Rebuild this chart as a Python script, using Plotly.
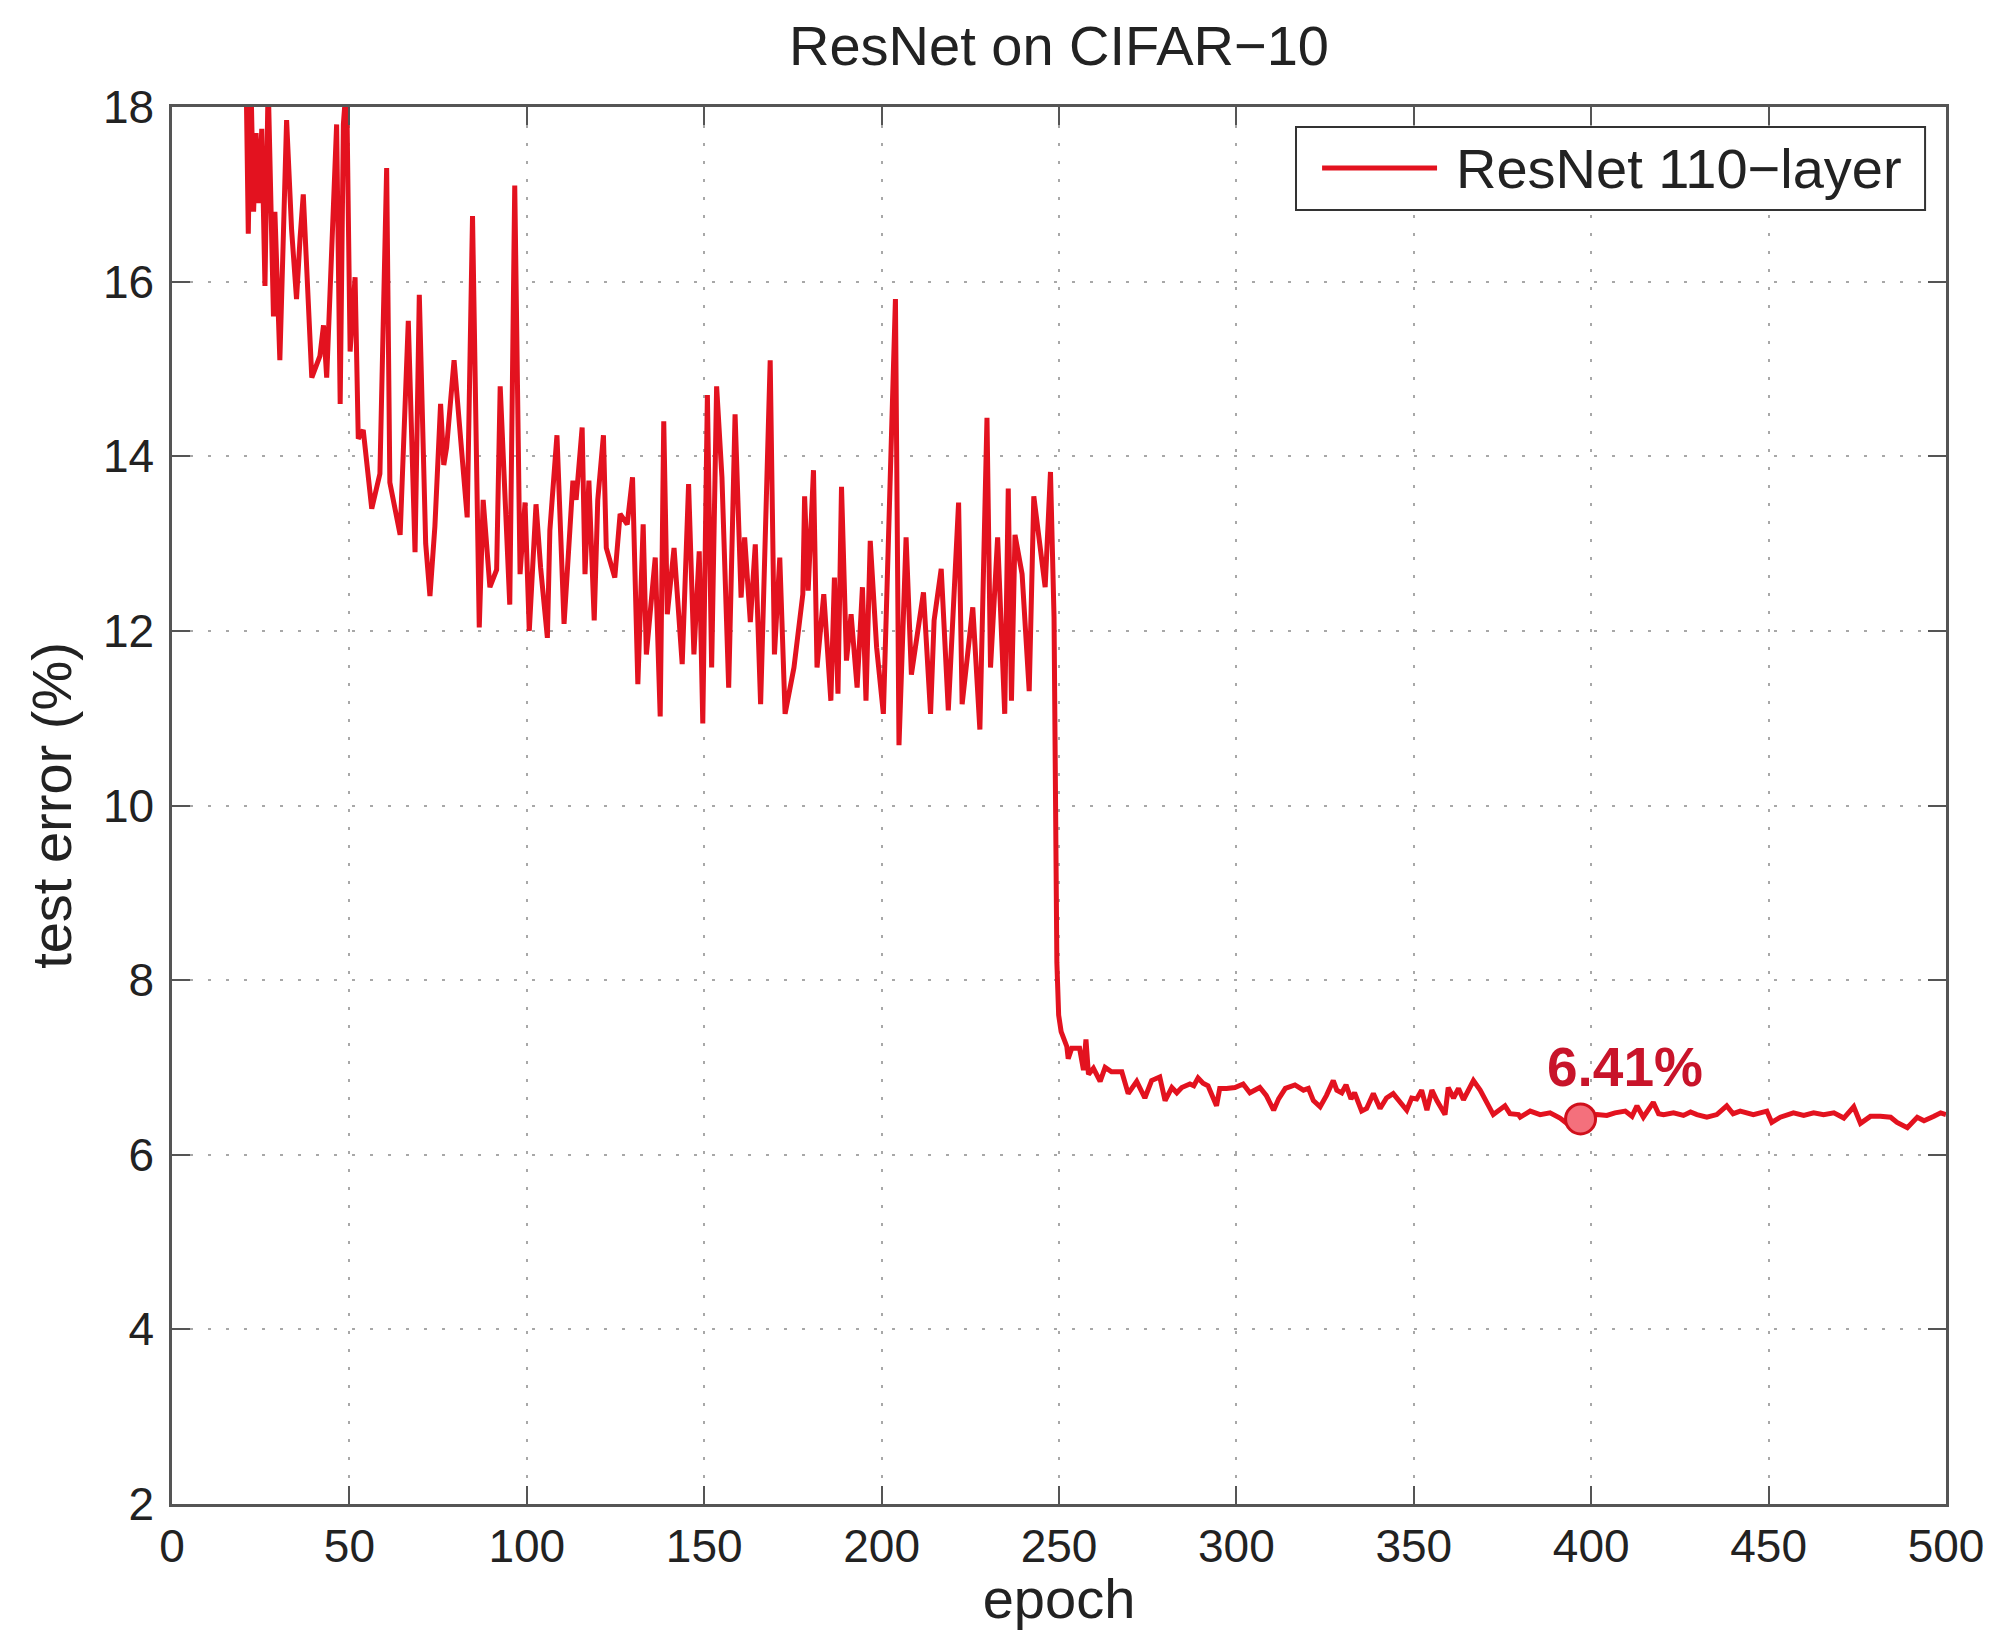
import plotly.graph_objects as go

# ---- data (epoch, test error %) ----
epoch_phase1 = [20.8, 21.5, 22.2, 23.0, 23.7, 24.5, 25.3, 26.2, 27.1, 28.6, 29.0, 30.4,
                31.3, 32.3, 33.7, 35.1, 36.1, 37.0, 39.4, 41.7, 42.7, 43.6, 46.4, 47.4,
                48.3, 49.2, 50.2, 51.6, 52.5, 53.9, 56.3, 58.6, 60.5, 61.4, 64.3, 66.6,
                68.5, 69.7, 71.5, 72.7, 74.1, 75.7, 76.6, 77.4, 79.5, 81.2, 83.2, 84.7,
                86.6, 87.7, 89.6, 91.5, 92.5, 95.2, 96.6]
error_phase1 = [18.6, 16.55, 18.4, 16.8, 17.7, 16.9, 17.75, 15.95, 18.3, 15.6, 16.8, 15.1,
                16.4, 17.85, 16.6, 15.8, 16.5, 17.0, 14.9, 15.15, 15.5, 14.9, 17.8, 14.6,
                17.8, 18.3, 15.2, 16.05, 14.2, 14.3, 13.4, 13.8, 17.3, 13.7, 13.1, 15.55,
                12.9, 15.85, 13.0, 12.4, 13.2, 14.6, 13.9, 14.1, 15.1, 14.2, 13.3, 16.75,
                12.04, 13.5, 12.5, 12.7, 14.8, 12.3, 17.1]

epoch_phase2 = [98.1, 99.5, 100.7, 102.6, 103.9, 105.8, 106.5, 108.5, 110.5, 113.0, 113.9,
                115.6, 116.4, 117.5, 119.0, 120.0, 121.6, 122.4, 124.8, 126.3, 128.3, 129.8,
                131.3, 132.8, 133.7, 135.2, 136.2, 137.6, 138.6, 139.6, 141.5, 143.8, 145.6,
                147.1, 148.6, 149.6, 150.9, 152.1, 153.5, 155.0, 156.9, 158.7, 160.4, 161.4,
                163.0, 164.4, 165.9, 168.6]
error_phase2 = [12.65, 13.47, 12.0, 13.45, 12.72, 11.92, 13.15, 14.24, 12.08, 13.72, 13.5,
                14.33, 12.65, 13.72, 12.12, 13.5, 14.24, 12.95, 12.61, 13.34, 13.22, 13.76,
                11.39, 13.22, 11.73, 12.34, 12.84, 11.02, 14.4, 12.19, 12.95, 11.62, 13.68,
                11.73, 12.91, 10.94, 14.7, 11.58, 14.8, 13.76, 11.35, 14.48, 12.38, 13.07,
                12.1, 12.99, 11.16, 15.1]

epoch_phase3 = [169.8, 171.3, 172.8, 175.3, 177.8, 178.3, 179.3, 180.8, 181.8, 183.7, 185.7,
                186.7, 187.7, 188.7, 190.1, 191.4, 193.1, 194.6, 195.6, 196.8, 198.6, 200.5,
                203.9, 204.9, 206.9, 208.4, 211.8, 213.8, 214.8, 216.8, 218.8, 221.7, 222.7,
                225.7, 227.7, 229.7, 230.7, 232.7, 234.7, 235.7, 236.6, 237.6, 239.6, 241.6,
                242.9, 246.1, 247.6, 248.6, 248.9, 249.4, 249.9, 250.6]
error_phase3 = [11.73, 12.84, 11.05, 11.58, 12.42, 13.54, 12.46, 13.84, 11.58, 12.42, 11.2,
                12.61, 11.28, 13.65, 11.66, 12.19, 11.35, 12.5, 11.2, 13.03, 11.81, 11.05,
                15.8, 10.69, 13.07, 11.5, 12.44, 11.05, 12.12, 12.71, 11.09, 13.47, 11.16,
                12.27, 10.87, 14.44, 11.58, 13.07, 11.05, 13.63, 11.2, 13.1, 12.65, 11.31,
                13.54, 12.5, 13.82, 12.16, 10.1, 8.2, 7.6, 7.41]

epoch_phase4 = [252.2, 252.6, 253.6, 255.8, 256.9, 257.6, 258.3, 259.7, 261.6, 263.0, 264.8,
                267.7, 269.5, 271.9, 274.2, 276.1, 278.4, 279.9, 281.8, 283.2, 284.6, 286.9,
                288.0, 289.2, 290.6, 292.0, 294.4, 295.3, 297.2, 299.6, 301.9, 303.8, 306.6,
                308.4, 310.5, 311.9, 313.8, 316.5, 318.9, 320.3, 321.7, 323.6, 325.4, 327.3,
                328.3, 329.7, 330.9, 332.3, 333.3, 335.3, 336.7, 338.6, 340.5, 342.3, 344.2,
                346.1, 348.0, 349.4, 350.8, 352.2, 353.7, 355.1, 356.5, 358.8, 359.7, 361.2,
                362.6, 364.0, 366.8, 368.7, 370.1, 372.4, 375.7, 377.1, 379.5]
error_phase4 = [7.24, 7.1, 7.22, 7.22, 6.97, 7.32, 6.92, 6.99, 6.84, 7.0, 6.95,
                6.95, 6.7, 6.84, 6.65, 6.85, 6.89, 6.62, 6.77, 6.71, 6.77, 6.81,
                6.79, 6.88, 6.82, 6.79, 6.56, 6.76, 6.76, 6.77, 6.81, 6.71, 6.77,
                6.68, 6.51, 6.64, 6.76, 6.8, 6.74, 6.76, 6.62, 6.55, 6.68, 6.85,
                6.74, 6.71, 6.8, 6.64, 6.71, 6.5, 6.53, 6.7, 6.53, 6.65, 6.7,
                6.6, 6.51, 6.65, 6.64, 6.74, 6.51, 6.74, 6.62, 6.46, 6.77, 6.65,
                6.76, 6.63, 6.85, 6.74, 6.63, 6.46, 6.56, 6.47, 6.46]

epoch_phase5 = [380.0, 382.8, 385.6, 388.4, 391.2, 393.1, 395.0, 397.0, 399.0, 401.6, 404.4,
                406.7, 409.6, 411.5, 412.9, 414.7, 416.2, 417.5, 419.0, 420.4, 423.2, 426.0,
                428.0, 429.8, 432.6, 435.4, 438.2, 440.0, 442.0, 445.7, 449.5, 450.9, 453.3,
                455.0, 457.0, 459.9, 462.7, 465.5, 468.4, 471.2, 474.0, 475.9, 478.7, 481.5,
                484.4, 486.2, 489.1, 491.9, 493.8, 496.6, 498.5, 500.0]
error_phase5 = [6.43, 6.5, 6.46, 6.48, 6.42, 6.36, 6.40, 6.41, 6.44, 6.46, 6.45,
                6.48, 6.5, 6.44, 6.56, 6.43, 6.52, 6.6, 6.47, 6.46, 6.48, 6.45,
                6.49, 6.46, 6.43, 6.46, 6.56, 6.47, 6.5, 6.46, 6.5, 6.37, 6.43,
                6.46, 6.48, 6.45, 6.48, 6.46, 6.48, 6.42, 6.55, 6.36, 6.44, 6.44,
                6.43, 6.37, 6.31, 6.43, 6.39, 6.44, 6.48, 6.46]

best_epoch = [397]
best_error = [6.41]
best_label = "6.41%"
series_name = "ResNet 110\u2212layer"
chart_title = "ResNet on CIFAR\u221210"

x_ticks = [0, 50, 100, 150, 200, 250, 300, 350, 400, 450, 500]
y_ticks = [2, 4, 6, 8, 10, 12, 14, 16, 18]

epochs = epoch_phase1 + epoch_phase2 + epoch_phase3 + epoch_phase4 + epoch_phase5
errors = error_phase1 + error_phase2 + error_phase3 + error_phase4 + error_phase5

LINE_RED = "#e3121f"
TEXT = "#222222"
FONT = "Liberation Sans, Arial, sans-serif"

# figure sized to the window minus the page's default 8px body margin
W, H = 1978, 1622
ML, MR, MT, MB = 164, 40, 99, 126

fig = go.Figure()
fig.add_trace(go.Scatter(
    x=epochs, y=errors, mode="lines", name=series_name, showlegend=False,
    line=dict(color=LINE_RED, width=5),
))
fig.add_trace(go.Scatter(
    x=best_epoch, y=best_error, mode="markers", showlegend=False,
    marker=dict(size=30, color="#f4707c", line=dict(color="#d0101c", width=3)),
))
fig.add_annotation(
    x=best_epoch[0] + 12.5, y=7.0, text="<b>" + best_label + "</b>", showarrow=False,
    font=dict(family=FONT, size=55, color="#c8142a"),
)

# legend box drawn in paper coordinates
fig.add_shape(type="rect", xref="paper", yref="paper",
              x0=0.6336, x1=0.9882, y0=0.9263, y1=0.9857,
              line=dict(color="#333333", width=2), fillcolor="white", layer="above")
fig.add_shape(type="line", xref="paper", yref="paper",
              x0=0.6483, x1=0.7131, y0=0.9563, y1=0.9563,
              line=dict(color=LINE_RED, width=5), layer="above")
fig.add_annotation(xref="paper", yref="paper", x=0.7225, y=0.9563,
                   xanchor="left", yanchor="middle", showarrow=False,
                   text=series_name, font=dict(family=FONT, size=56, color=TEXT))

axis_common = dict(
    showline=True, linecolor="#555555", linewidth=2.5, mirror="ticks",
    ticks="inside", ticklen=18, tickwidth=2, tickcolor="#555555",
    showgrid=True, gridcolor="#a8a8a8", griddash="3px,15px", gridwidth=2,
    zeroline=False, automargin=False,
    tickfont=dict(family=FONT, size=46, color=TEXT),
)

fig.update_xaxes(range=[0, 500], tickvals=x_ticks, **axis_common,
                 title=dict(text="epoch", font=dict(family=FONT, size=56, color=TEXT), standoff=9))
fig.update_yaxes(range=[2, 18], tickvals=y_ticks, **axis_common, ticklabelstandoff=6,
                 title=dict(text="test error (%)", font=dict(family=FONT, size=56, color=TEXT), standoff=14))

fig.update_layout(
    width=W, height=H,
    margin=dict(l=ML, r=MR, t=MT, b=MB, autoexpand=False),
    paper_bgcolor="white", plot_bgcolor="white",
    title=dict(text=chart_title, x=(ML + (W - ML - MR) / 2) / W, xanchor="center",
               y=1 - 37 / H, yanchor="middle",
               font=dict(family=FONT, size=56, color=TEXT)),
    showlegend=False,
)

fig.write_html("out.html")
